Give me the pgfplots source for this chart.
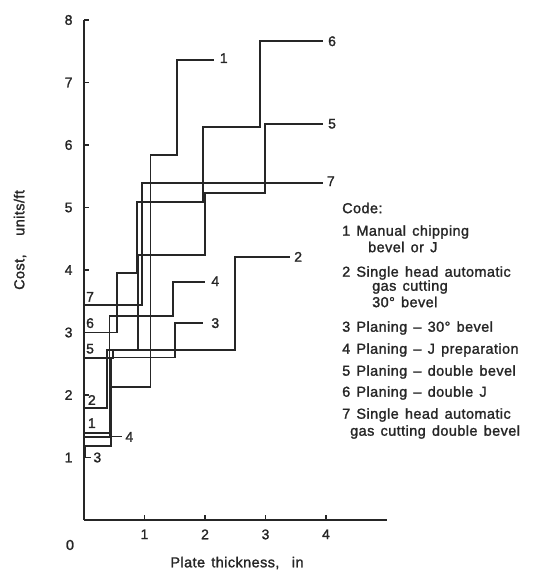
\documentclass[border=0pt]{standalone}
\usepackage{pgfplots}
\pgfplotsset{compat=1.18}
\usepackage{fontspec}
\setmainfont{Liberation Sans}[FakeBold=1.5, LetterSpace=3, WordSpace=1.4]
\begin{document}
\begin{tikzpicture}[x=1bp,y=1bp]
\useasboundingbox (0,0) rectangle (539,572);
\begin{axis}[
  at={(84bp,52bp)}, anchor=south west,
  scale only axis, width=302.5bp, height=500bp,
  xmin=0, xmax=5, ymin=0, ymax=8,
  axis x line=bottom, axis y line=left,
  axis line style={-, line width=1.4bp, black!85},
  xtick={1,2,3,4}, ytick={1,2,3,4,5,6,7,8},
  tick align=inside, major tick length=5bp,
  tick style={line width=1.2bp, black!85},
  /pgf/number format/assume math mode=true,
  every tick label/.append style={font=\fontsize{14}{16}\selectfont, text=black!85},
  yticklabel style={xshift=-8bp},
  xticklabel style={yshift=-6bp},
  clip=false,
  cv/.style={black!85, line width=1.8bp, no markers, solid},
]
% 1 Manual chipping
\addplot[cv] coordinates {(0,1.39) (0.42,1.39) (0.42,2.13) (1.1,2.13) (1.1,5.84) (1.54,5.84) (1.54,7.36) (2.15,7.36)};
% 2 Single head automatic gas cutting 30 bevel
\addplot[cv] coordinates {(0,1.79) (0.38,1.79) (0.38,2.72) (2.5,2.72) (2.5,4.21) (3.4,4.21)};
% 3 Planing 30 bevel
\addplot[cv] coordinates {(0,1.18) (0.45,1.18) (0.45,2.6) (1.5,2.6) (1.5,3.15) (1.97,3.15)};
% 4 Planing J preparation
\addplot[cv] coordinates {(0,1.33) (0.42,1.33) (0.42,3.27) (1.47,3.27) (1.47,3.81) (2.0,3.81)};
% 5 Planing double bevel
\addplot[cv] coordinates {(0,2.59) (0.48,2.59) (0.48,2.72) (0.89,2.72) (0.89,4.24) (2.0,4.24) (2.0,5.23) (2.99,5.23) (2.99,6.34) (3.95,6.34)};
% 6 Planing double J
\addplot[cv] coordinates {(0,3.0) (0.55,3.0) (0.55,3.95) (0.88,3.95) (0.88,5.09) (1.97,5.09) (1.97,6.29) (2.91,6.29) (2.91,7.66) (3.95,7.66)};
% 7 Single head automatic gas cutting double bevel
\addplot[cv] coordinates {(0,3.44) (0.96,3.44) (0.96,5.39) (3.95,5.39)};
% curve labels
\begin{scope}[every node/.style={font=\fontsize{14}{16}\selectfont, text=black!85}]
\node at (axis cs:2.31,7.39) {1};
\node at (axis cs:4.1,7.66) {6};
\node at (axis cs:4.1,6.34) {5};
\node at (axis cs:4.08,5.42) {7};
\node at (axis cs:3.54,4.21) {2};
\node at (axis cs:2.17,3.82) {4};
\node at (axis cs:2.17,3.15) {3};
\node at (axis cs:0.1,3.57) {7};
\node at (axis cs:0.1,3.15) {6};
\node at (axis cs:0.1,2.74) {5};
\node at (axis cs:0.13,1.92) {2};
\node at (axis cs:0.13,1.55) {1};
\node at (axis cs:0.75,1.33) {4};
\node at (axis cs:0.22,1.0) {3};
\end{scope}
\draw[black!85, line width=1.2bp] (axis cs:0.43,1.33) -- (axis cs:0.62,1.33);
\draw[black!85, line width=1.2bp] (axis cs:0.03,1.16) -- (axis cs:0.03,1.0) -- (axis cs:0.11,1.0);
\end{axis}
\begin{scope}[every node/.style={font=\fontsize{14.5}{16}\selectfont, text=black!85, inner sep=0pt}]
\node at (70,27) {0};
\node at (237,9) {Plate thickness,\ \ in};
\node[rotate=90] at (20,332) {Cost,\ \ \ units/ft};
\node[anchor=west] at (342,364) {Code:};
\node[anchor=west] at (342,340) {1\ Manual chipping};
\node[anchor=west] at (368,325) {bevel or J};
\node[anchor=west] at (342,299) {2\ Single head automatic};
\node[anchor=west] at (372,285) {gas cutting};
\node[anchor=west] at (372,270) {30\textdegree\ bevel};
\node[anchor=west] at (342,244) {3\ Planing -- 30\textdegree\ bevel};
\node[anchor=west] at (342,222) {4\ Planing -- J preparation};
\node[anchor=west] at (342,200) {5\ Planing -- double bevel};
\node[anchor=west] at (342,179) {6\ Planing -- double J};
\node[anchor=west] at (342,157) {7\ Single head automatic};
\node[anchor=west] at (350,140) {gas cutting double bevel};
\end{scope}
\end{tikzpicture}
\end{document}
